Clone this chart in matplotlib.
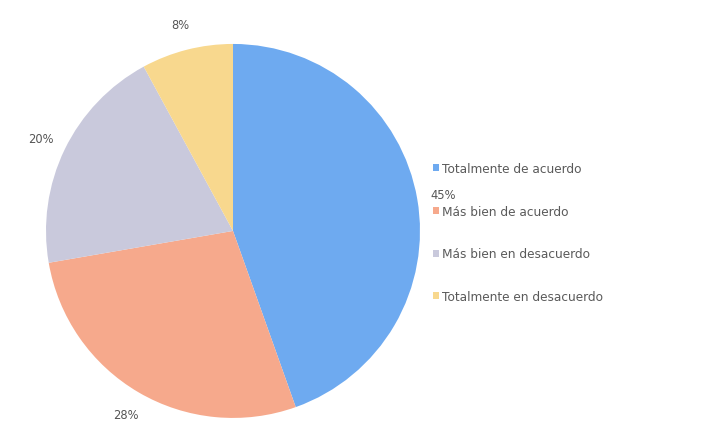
import matplotlib.pyplot as plt
from matplotlib.patches import Patch

categories = ["Totalmente de acuerdo", "Más bien de acuerdo",
              "Más bien en desacuerdo", "Totalmente en desacuerdo"]
values = [45, 28, 20, 8]
colors = ["#6eaaf0", "#f6a98c", "#c9c9dc", "#f8d88e"]

fig = plt.figure(figsize=[7.11, 4.35], dpi=100)
ax = fig.add_axes([0.0647, 0.0368, 0.526, 0.86])

wedges, texts = ax.pie(values, colors=colors, startangle=90, counterclock=False,
                       labels=[f"{v}%" for v in values], labeldistance=1.14,
                       textprops={"fontsize": 8.3, "color": "#555555"})
for t in texts:
    t.set_ha("center")
    t.set_va("center")
ax.set_xlim(-1, 1)
ax.set_ylim(-1, 1)
ax.set_aspect("equal")

handles = [Patch(facecolor=c, edgecolor="none") for c in colors]
fig.legend(handles, categories, loc="center left", bbox_to_anchor=(0.594, 0.463),
           frameon=False, fontsize=8.7, labelcolor="#5a5a5a",
           handlelength=0.5, handleheight=0.5, handletextpad=0.25,
           labelspacing=2.45)

plt.savefig("out.png", dpi=100)
